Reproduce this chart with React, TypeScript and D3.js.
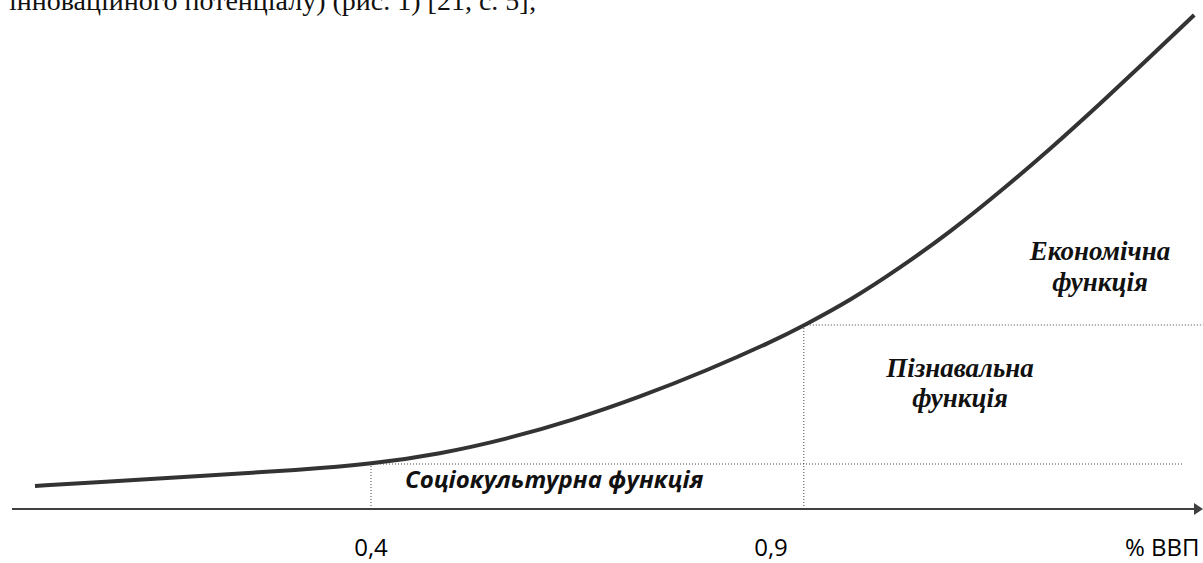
import React from "react";
import * as d3 from "d3";

const W = 1203;
const H = 563;

// curve of spending vs. function (x in % of GDP, y in arbitrary units)
const curveX = [-0.02, 0.061, 0.186, 0.311, 0.401, 0.486, 0.57, 0.653, 0.736, 0.82, 0.903, 0.941, 0.999, 1.061, 1.124, 1.186, 1.249, 1.311, 1.374, 1.429];
const curveY = [23, 27, 33, 39, 45, 55, 70, 89, 112, 138.5, 168, 183.5, 208.5, 241, 277, 317, 360, 405, 452, 494];

const tickValues = [0.4, 0.9];
const tickLabels = ["0,4", "0,9"];
const axisUnitLabel = "% ВВП";
const unitLabelX = 1.389;

// thresholds
const threshold1 = { x: 0.4, y: 45 };
const threshold2 = { x: 0.941, y: 184 };
const lowerLineEnd = 1.414;

const headerText = "інноваційного потенціалу) (рис. 1) [21, с. 5];";
const zoneSocio = "Соціокультурна функція";
const zoneCognitive = ["Пізнавальна", "функція"];
const zoneEconomic = ["Економічна", "функція"];

export default function App() {
  const x = d3.scaleLinear().domain([0.4, 0.9]).range([371, 771]);
  const y = d3.scaleLinear().domain([0, 500]).range([509, 9]);
  const axisY = y(0);
  const pts: [number, number][] = curveX.map((v, i) => [v, curveY[i]]);
  const line = d3
    .line<[number, number]>()
    .x((d) => x(d[0]))
    .y((d) => y(d[1]))
    .curve(d3.curveBasis);

  const dot = { stroke: "#444", strokeWidth: 1, strokeDasharray: "1,2" };
  const serifLbl = {
    fontFamily: "'Liberation Serif', 'Times New Roman', serif",
    fontWeight: 700,
    fontStyle: "italic" as const,
    fontSize: 27,
    fill: "#111",
    textAnchor: "middle" as const,
  };
  const tickStyle = { fontFamily: "'Open Sans', sans-serif", fontSize: 24, fill: "#000" };

  return (
    <svg
      width={W}
      height={H}
      style={{ position: "absolute", left: 0, top: 0, background: "#fff" }}
    >
      <text
        x={9}
        y={10}
        style={{ fontFamily: "'Liberation Serif', serif", fontSize: 28, fill: "#111" }}
      >
        {headerText}
      </text>

      {/* dotted guides */}
      <line x1={x(threshold1.x)} x2={x(threshold1.x)} y1={y(threshold1.y) - 1} y2={axisY} {...dot} />
      <line x1={x(threshold1.x)} x2={x(lowerLineEnd)} y1={y(threshold1.y)} y2={y(threshold1.y)} {...dot} />
      <line x1={x(threshold2.x)} x2={x(threshold2.x)} y1={y(threshold2.y)} y2={axisY} {...dot} />
      <line x1={x(threshold2.x)} x2={W} y1={y(threshold2.y)} y2={y(threshold2.y)} {...dot} />

      {/* axis */}
      <line x1={12} x2={1194} y1={axisY} y2={axisY} stroke="#404040" strokeWidth={2} />
      <path d={`M1194,${axisY - 6} L1203,${axisY} L1194,${axisY + 6} Z`} fill="#404040" />

      {/* curve */}
      <path d={line(pts) || ""} fill="none" stroke="#333" strokeWidth={4} strokeLinecap="butt" />

      {/* tick labels */}
      {tickValues.map((v, i) => (
        <text key={i} x={x(v)} y={556} textAnchor="middle" style={tickStyle}>
          {tickLabels[i]}
        </text>
      ))}
      <text x={x(unitLabelX)} y={556} textAnchor="middle" style={tickStyle}>
        {axisUnitLabel}
      </text>

      {/* zone labels */}
      <text
        x={405}
        y={488}
        style={{
          fontFamily: "'Open Sans', sans-serif",
          fontWeight: 700,
          fontStyle: "italic",
          fontSize: 24,
          fill: "#111",
        }}
      >
        {zoneSocio}
      </text>
      {zoneCognitive.map((t, i) => (
        <text key={t} x={960} y={377 + i * 30} style={serifLbl}>
          {t}
        </text>
      ))}
      {zoneEconomic.map((t, i) => (
        <text key={t} x={1100} y={260 + i * 31} style={serifLbl}>
          {t}
        </text>
      ))}
    </svg>
  );
}
